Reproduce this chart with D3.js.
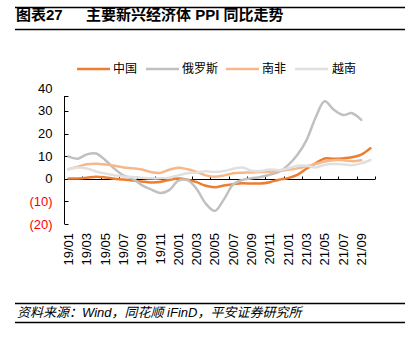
<!DOCTYPE html>
<html>
<head>
<meta charset="utf-8">
<script src="https://cdn.jsdelivr.net/npm/d3@7"></script>
<style>
  body { margin: 0; background: #fff; }
  svg { display: block; font-family: "Liberation Sans", Arial, "Noto Sans CJK SC", sans-serif; }
</style>
</head>
<body>
<div id="chart"></div>
<script>
// months 19/01 .. 21/10
var months = ["19/01","19/02","19/03","19/04","19/05","19/06","19/07","19/08","19/09","19/10","19/11","19/12",
  "20/01","20/02","20/03","20/04","20/05","20/06","20/07","20/08","20/09","20/10","20/11","20/12",
  "21/01","21/02","21/03","21/04","21/05","21/06","21/07","21/08","21/09","21/10"];

var china = [0.1, 0.1, 0.4, 0.9, 0.6, 0.0, -0.3, -0.8, -1.2, -1.6, -1.4, -0.5,
  0.1, -0.4, -1.5, -3.1, -3.7, -3.0, -2.4, -2.0, -2.1, -2.1, -1.5, -0.4,
  0.3, 1.7, 4.4, 6.8, 9.0, 8.8, 9.0, 9.5, 10.7, 13.5];
var russia = [9.8, 8.9, 10.8, 11.2, 8.3, 4.5, 1.5, 0.0, -2.8, -4.7, -6.3, -5.0,
  -0.8, -0.6, -4.5, -11.0, -14.2, -9.0, -2.5, -0.5, 0.2, 0.8, 1.8, 3.0,
  6.0, 10.5, 17.0, 27.0, 34.3, 30.5, 28.2, 29.0, 26.0];
var southAfrica = [4.2, 5.3, 6.4, 6.6, 6.3, 5.8, 5.0, 4.6, 4.1, 3.0, 2.6, 4.0,
  4.9, 4.2, 3.0, 1.5, 0.9, 1.5, 2.4, 2.7, 2.8, 3.0, 3.1, 3.4,
  4.0, 4.6, 5.5, 6.5, 7.6, 8.2, 8.2, 7.8, 8.2];
var vietnam = [4.2, 5.0, 4.5, 3.2, 2.3, 1.6, 1.0, 0.8, 0.5, 0.2, 0.2, 0.5,
  1.5, 2.4, 2.8, 3.3, 3.0, 3.4, 4.4, 5.0, 3.5, 3.4, 4.1, 3.8,
  4.6, 5.8, 5.8, 5.0, 6.2, 6.5, 6.4, 6.0, 6.8, 8.3];

var yTicks = [-20, -10, 0, 10, 20, 30, 40];

var series = [
  {name: "中国", values: china, color: "#ed7d31"},
  {name: "俄罗斯", values: russia, color: "#c0c0c0"},
  {name: "南非", values: southAfrica, color: "#f6b88a"},
  {name: "越南", values: vietnam, color: "#e0e0e0"}
];

var width = 419, height = 342;
var svg = d3.select("#chart").append("svg")
  .attr("width", width)
  .attr("height", height);

// title block
svg.append("line").attr("x1", 15).attr("x2", 405).attr("y1", 7.5).attr("y2", 7.5)
  .attr("stroke", "#000").attr("stroke-width", 1.5);
svg.append("line").attr("x1", 15).attr("x2", 405).attr("y1", 29.5).attr("y2", 29.5)
  .attr("stroke", "#000").attr("stroke-width", 1.5);
svg.append("text").attr("x", 16).attr("y", 20)
  .attr("font-size", 15).attr("font-weight", "bold")
  .text("图表27");
svg.append("text").attr("x", 86).attr("y", 20)
  .attr("font-size", 15).attr("font-weight", "bold")
  .text("主要新兴经济体 PPI 同比走势");

// footer
svg.append("line").attr("x1", 15).attr("x2", 405).attr("y1", 303.5).attr("y2", 303.5)
  .attr("stroke", "#000").attr("stroke-width", 1.5);
svg.append("line").attr("x1", 15).attr("x2", 405).attr("y1", 322.5).attr("y2", 322.5)
  .attr("stroke", "#000").attr("stroke-width", 1.5);
svg.append("text").attr("x", 17).attr("y", 317)
  .attr("font-size", 13).attr("font-style", "italic")
  .text("资料来源：Wind，同花顺 iFinD，平安证券研究所");

// scales
var x = d3.scaleBand().domain(months).range([64, 375]);
var y = d3.scaleLinear().domain([-20, 40]).range([224, 88.3]);
var cx = function(i) { return x(months[i]) + x.bandwidth() / 2; };

// y axis (line stops a bit short of 40, like the original)
var yTop = 36.6;
svg.append("line").attr("x1", 64.5).attr("x2", 64.5)
  .attr("y1", y(-20)).attr("y2", y(yTop))
  .attr("stroke", "#000").attr("stroke-width", 1);
svg.selectAll(".ytick").data(yTicks.filter(function(d) { return d < 40; }).concat([yTop]))
  .enter().append("line")
  .attr("x1", 64.5).attr("x2", 68.5)
  .attr("y1", function(d) { return Math.round(y(d)) + 0.5; })
  .attr("y2", function(d) { return Math.round(y(d)) + 0.5; })
  .attr("stroke", "#000");
svg.selectAll(".ylab").data(yTicks).enter().append("text")
  .attr("x", 52.5)
  .attr("y", function(d) { return y(d); })
  .attr("dy", "0.35em")
  .attr("text-anchor", "end")
  .attr("font-size", 13)
  .attr("fill", function(d) { return d < 0 ? "#ff0000" : "#000"; })
  .text(function(d) { return d < 0 ? "(" + (-d) + ")" : d; });

// zero line with ticks every 2 months
var y0 = Math.round(y(0)) + 0.5;
svg.append("line").attr("x1", 64).attr("x2", 375).attr("y1", y0).attr("y2", y0)
  .attr("stroke", "#000").attr("stroke-width", 1);
var tickIdx = d3.range(0, months.length + 1, 2);
svg.selectAll(".xtick").data(tickIdx).enter().append("line")
  .attr("x1", function(i) { return Math.round(x.range()[0] + i * x.step()) + 0.5; })
  .attr("x2", function(i) { return Math.round(x.range()[0] + i * x.step()) + 0.5; })
  .attr("y1", y0).attr("y2", y0 - 3)
  .attr("stroke", "#000");

// x labels
svg.selectAll(".xlab").data(months.filter(function(d, i) { return i % 2 === 0; }))
  .enter().append("text")
  .attr("transform", function(d) {
    return "translate(" + (x(d) + x.bandwidth() / 2) + ",233) rotate(-90)";
  })
  .attr("dy", "0.35em")
  .attr("text-anchor", "end")
  .attr("font-size", 13)
  .text(function(d) { return d; });

// lines
var line = d3.line()
  .x(function(d, i) { return cx(i); })
  .y(function(d) { return y(d); })
  .curve(d3.curveCatmullRom.alpha(0.5));

svg.selectAll(".series").data(series).enter().append("path")
  .attr("d", function(s) { return line(s.values); })
  .attr("fill", "none")
  .attr("stroke", function(s) { return s.color; })
  .attr("stroke-width", 2.5)
  .attr("stroke-linecap", "round");

// legend
var legendX = [77, 146, 226, 295];
var legend = svg.selectAll(".legend").data(series).enter().append("g")
  .attr("transform", function(d, i) { return "translate(" + legendX[i] + ",69)"; });
legend.append("line")
  .attr("x1", 0).attr("x2", 33).attr("y1", 0).attr("y2", 0)
  .attr("stroke", function(d) { return d.color; })
  .attr("stroke-width", 2.5);
legend.append("text")
  .attr("x", function(d, i) { return i === 3 ? 37 : 36; })
  .attr("y", 0)
  .attr("dy", "0.35em")
  .attr("font-size", 12)
  .attr("font-family", "'Noto Sans CJK SC', sans-serif")
  .text(function(d) { return d.name; });
</script>
</body>
</html>
